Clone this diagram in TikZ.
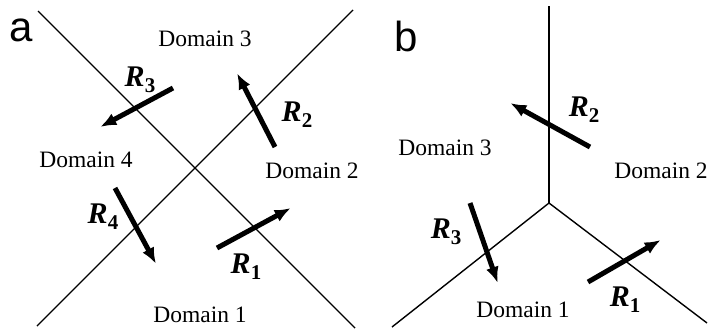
\documentclass[tikz,border=0pt]{standalone}
\usepackage{fontspec}
\setmainfont{Liberation Serif}
\newfontfamily\panelfont{Liberation Sans}
\usetikzlibrary{arrows.meta}
\tikzset{
  boundary/.style={line width=1.4pt, black},
  flux/.style={line width=5pt, -{Latex[length=16pt,width=13pt]}, shorten >=-2pt},
  domlabel/.style={font=\fontsize{23.5}{26}\selectfont, inner sep=0pt},
  panellabel/.style={font=\panelfont\fontsize{42}{44}\selectfont, inner sep=0pt},
  rlabel/.style={font=\fontsize{30}{32}\selectfont\bfseries\itshape, inner sep=0pt}
}
\newcommand{\Rsub}[1]{R\raisebox{-0.2em}{\fontsize{21}{22}\selectfont\upshape\bfseries #1}}
\begin{document}
\begin{tikzpicture}[x=1pt,y=-1pt]
\useasboundingbox (0,0) rectangle (714,333);
% ---- panel a ----
\coordinate (a1s) at (38,11);
\coordinate (a1e) at (355,328);
\coordinate (a2s) at (353,10);
\coordinate (a2e) at (37,326);
\draw[boundary] (a1s) -- (a1e);
\draw[boundary] (a2s) -- (a2e);
\node[panellabel] (la) at (21,30) {a};
\node[domlabel] (ad3) at (205,39) {Domain 3};
\node[domlabel] (ad4) at (86,160) {Domain 4};
\node[domlabel] (ad2) at (312,171) {Domain 2};
\node[domlabel] (ad1) at (200,315) {Domain 1};
\coordinate (aR1s) at (217,248); \coordinate (aR1e) at (289,209);
\coordinate (aR2s) at (275,147); \coordinate (aR2e) at (238,75);
\coordinate (aR3s) at (173,88);  \coordinate (aR3e) at (102,126);
\coordinate (aR4s) at (115,188); \coordinate (aR4e) at (155,262);
\draw[flux] (aR1s) -- (aR1e);
\draw[flux] (aR2s) -- (aR2e);
\draw[flux] (aR3s) -- (aR3e);
\draw[flux] (aR4s) -- (aR4e);
\node[rlabel] (aL1) at (246,267) {\Rsub{1}};
\node[rlabel] (aL2) at (297,115) {\Rsub{2}};
\node[rlabel] (aL3) at (140,80) {\Rsub{3}};
\node[rlabel] (aL4) at (103,217) {\Rsub{4}};
% ---- panel b ----
\coordinate (bj) at (549,203);
\coordinate (btop) at (549,6);
\coordinate (bl) at (392,327);
\coordinate (br) at (707,323);
\draw[boundary] (btop) -- (bj);
\draw[boundary] (bl) -- (bj) -- (br);
\node[panellabel] (lb) at (406,36) {b};
\node[domlabel] (bd3) at (445,148) {Domain 3};
\node[domlabel] (bd2) at (661,171) {Domain 2};
\node[domlabel] (bd1) at (523,310) {Domain 1};
\coordinate (bR1s) at (588,282); \coordinate (bR1e) at (659,241);
\coordinate (bR2s) at (590,147); \coordinate (bR2e) at (512,104);
\coordinate (bR3s) at (470,203); \coordinate (bR3e) at (497,281);
\draw[flux] (bR1s) -- (bR1e);
\draw[flux] (bR2s) -- (bR2e);
\draw[flux] (bR3s) -- (bR3e);
\node[rlabel] (bL1) at (625,300) {\Rsub{1}};
\node[rlabel] (bL2) at (584,110) {\Rsub{2}};
\node[rlabel] (bL3) at (446,232) {\Rsub{3}};
\end{tikzpicture}
\end{document}
